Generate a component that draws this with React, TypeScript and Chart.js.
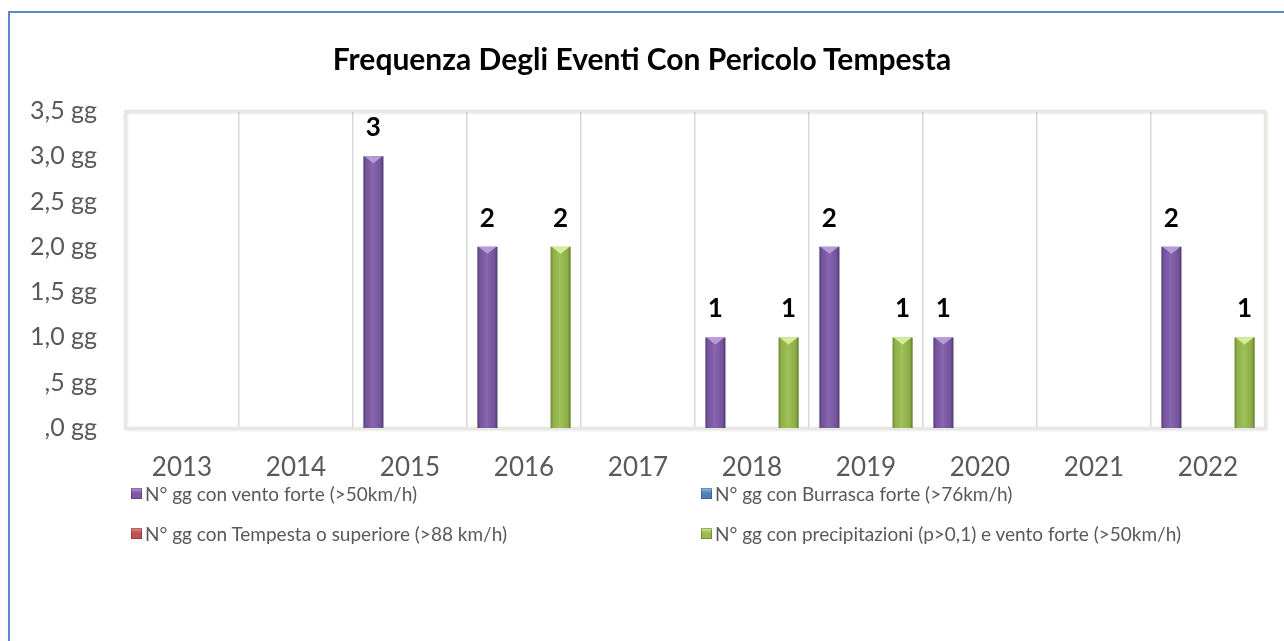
import React, { useEffect, useRef } from "react";
import { Chart, registerables } from "chart.js";

Chart.register(...registerables);

const years = ["2013", "2014", "2015", "2016", "2017", "2018", "2019", "2020", "2021", "2022"];
const ventoForte = [0, 0, 3, 2, 0, 1, 2, 1, 0, 2];
const burrascaForte = [0, 0, 0, 0, 0, 0, 0, 0, 0, 0];
const tempesta = [0, 0, 0, 0, 0, 0, 0, 0, 0, 0];
const precipVento = [0, 0, 0, 2, 0, 1, 1, 0, 0, 1];

const seriesNames = [
  "N° gg con vento forte (>50km/h)",
  "N° gg con Burrasca forte (>76km/h)",
  "N° gg con Tempesta o superiore (>88 km/h)",
  "N° gg con precipitazioni (p>0,1) e vento forte (>50km/h)",
];
const seriesColors = ["#7D5AA8", "#4F81BD", "#C0504D", "#98BC4B"];
const seriesLight = ["#B79BDB", "#9CC0EC", "#E8908D", "#D5EC9A"];

const yMin = 0;
const yMax = 3.5;
const yStep = 0.5;

const title = "Frequenza Degli Eventi Con Pericolo Tempesta";
const FONT = "Lato, 'Open Sans', sans-serif";

function formatTick(v: number): string {
  let s = v.toFixed(1).replace(".", ",");
  if (s.startsWith("0,")) s = s.slice(1);
  return s + " gg";
}

const decorPlugin = {
  id: "decor",
  beforeDatasetsDraw(chart: any) {
    const { ctx, chartArea } = chart;
    ctx.save();
    ctx.shadowColor = "rgba(0,0,0,0.18)";
    ctx.shadowBlur = 3;
    ctx.shadowOffsetX = 1;
    ctx.shadowOffsetY = 1;
    ctx.strokeStyle = "#E9E7DD";
    ctx.lineWidth = 2;
    ctx.strokeRect(chartArea.left, chartArea.top, chartArea.right - chartArea.left, chartArea.bottom - chartArea.top);
    ctx.restore();
  },
  afterDatasetsDraw(chart: any) {
    const { ctx } = chart;
    chart.data.datasets.forEach((ds: any, di: number) => {
      const meta = chart.getDatasetMeta(di);
      meta.data.forEach((bar: any, i: number) => {
        const v = ds.data[i];
        if (!v) return;
        const w = bar.width;
        const left = bar.x - w / 2;
        const right = bar.x + w / 2;
        const top = bar.y;
        const base = bar.base;
        ctx.save();
        const g = ctx.createLinearGradient(left, 0, right, 0);
        g.addColorStop(0, "rgba(0,0,0,0.28)");
        g.addColorStop(0.15, "rgba(0,0,0,0.05)");
        g.addColorStop(0.45, "rgba(255,255,255,0.08)");
        g.addColorStop(0.85, "rgba(0,0,0,0.08)");
        g.addColorStop(1, "rgba(0,0,0,0.35)");
        ctx.fillStyle = g;
        ctx.fillRect(left, top, w, base - top);
        ctx.fillStyle = seriesLight[di];
        ctx.beginPath();
        ctx.moveTo(left + 1, top);
        ctx.lineTo(right - 1, top);
        ctx.lineTo(bar.x, top + 7);
        ctx.closePath();
        ctx.fill();
        ctx.fillStyle = "#000";
        ctx.font = `bold 26px ${FONT}`;
        ctx.textAlign = "center";
        ctx.textBaseline = "alphabetic";
        ctx.fillText(String(v), bar.x, top - 20);
        ctx.restore();
      });
    });
  },
};

export default function App() {
  const ref = useRef<HTMLCanvasElement | null>(null);
  useEffect(() => {
    if (!ref.current) return;
    const datasetsData = [ventoForte, burrascaForte, tempesta, precipVento];
    const chart = new Chart(ref.current, {
      type: "bar",
      data: {
        labels: years,
        datasets: datasetsData.map((d, i) => ({
          label: seriesNames[i],
          data: d,
          backgroundColor: seriesColors[i],
          borderWidth: 0,
          categoryPercentage: 0.856,
          barPercentage: 0.82,
        })),
      },
      options: {
        responsive: false,
        animation: false,
        devicePixelRatio: 1,
        layout: { padding: { top: 111, right: 19, left: 0, bottom: 0 } },
        plugins: { legend: { display: false }, title: { display: false }, tooltip: { enabled: false } },
        scales: {
          x: {
            grid: { display: true, offset: true, color: "#D9D9D9", lineWidth: 1.5, drawTicks: false },
            border: { display: false },
            ticks: { color: "#595959", font: { family: FONT, size: 26 }, padding: 24 },
            afterFit: (s: any) => { s.height = 641 - 428; },
          },
          y: {
            min: yMin,
            max: yMax,
            grid: { display: false, drawTicks: false },
            border: { display: false },
            ticks: {
              stepSize: yStep,
              color: "#595959",
              font: { family: FONT, size: 25 },
              padding: 28,
              callback: (v: any) => formatTick(Number(v)),
            },
            afterFit: (s: any) => { s.width = 125; },
          },
        },
      },
      plugins: [decorPlugin],
    });
    return () => chart.destroy();
  }, []);

  const legendPos = [
    { left: 131, top: 493 },
    { left: 701, top: 493 },
    { left: 131, top: 533 },
    { left: 701, top: 533 },
  ];

  return (
    <div style={{ position: "fixed", inset: 0, overflow: "hidden", background: "#fff" }}>
      <div
        style={{
          position: "absolute",
          left: 8,
          top: 11,
          width: 1400,
          height: 800,
          borderLeft: "2px solid #5B8BC9",
          borderTop: "2px solid #5B8BC9",
        }}
      />
      <canvas ref={ref} width={1284} height={641} style={{ position: "absolute", left: 0, top: 0, width: 1284, height: 641 }} />
      <div
        style={{
          position: "absolute",
          left: 0,
          width: 1284,
          top: 39,
          textAlign: "center",
          fontFamily: FONT,
          fontWeight: 700,
          fontSize: 30,
          lineHeight: "38px",
          color: "#000",
        }}
      >
        {title}
      </div>
      {seriesNames.map((n, i) => (
        <div
          key={n}
          style={{
            position: "absolute",
            left: legendPos[i].left,
            top: legendPos[i].top - 12,
            height: 24,
            display: "flex",
            alignItems: "center",
            fontFamily: FONT,
            fontSize: 19,
            color: "#595959",
            whiteSpace: "nowrap",
          }}
        >
          <span
            style={{
              display: "inline-block",
              width: 11,
              height: 11,
              marginRight: 3,
              background: `linear-gradient(to bottom, ${seriesLight[i]}, ${seriesColors[i]} 45%, ${seriesColors[i]})`,
              boxShadow: "inset 0 0 0 1px rgba(0,0,0,0.25)",
            }}
          />
          {n}
        </div>
      ))}
    </div>
  );
}
